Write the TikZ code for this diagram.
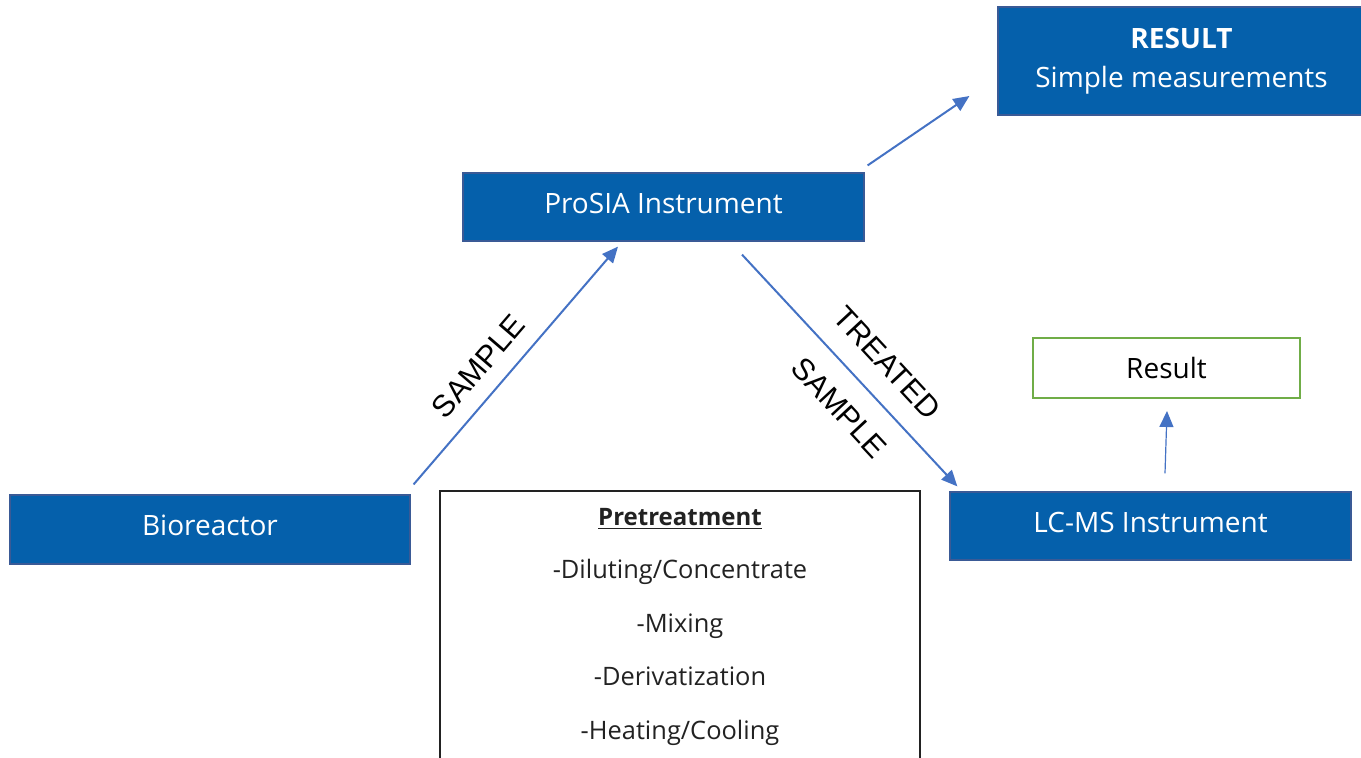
\documentclass[tikz,border=0pt]{standalone}
\usepackage{fontspec}
\setmainfont{Open Sans}
\newfontfamily\arialfont{Liberation Sans}
\usetikzlibrary{arrows.meta}

\definecolor{boxblue}{HTML}{0560AB}
\definecolor{boxedge}{HTML}{3A5A96}
\definecolor{arrowblue}{HTML}{4472C4}
\definecolor{resgreen}{HTML}{70AD47}
\definecolor{textdark}{HTML}{222222}

\newcommand{\liftlabel}[1]{\raisebox{2pt}[\height][\depth]{#1}}

\tikzset{
  bluebox/.style={draw=boxedge, line width=0.6pt, fill=boxblue, text=white, align=center, inner sep=0pt, font=\fontsize{14}{19.5}\selectfont},
  greenbox/.style={draw=resgreen, line width=1pt, fill=white, text=black, inner sep=0pt, font=\fontsize{14}{17}\selectfont},
  flow/.style={draw=arrowblue, line width=1pt, -{Triangle[length=8pt,width=7pt]}},
  lbl/.style={font=\arialfont\fontsize{15.3}{18}\selectfont, sloped, inner sep=0pt}
}

\begin{document}
\begin{tikzpicture}[x=0.5pt,y=-0.5pt]
\clip (0,0) rectangle (1361,757);

% Boxes
\node[bluebox, minimum width=183.5pt, minimum height=54pt] (resbig) at (1181.5,61) {\bfseries RESULT\\Simple measurements};
\node[bluebox, minimum width=200.5pt, minimum height=34pt] (prosia) at (663.5,207) {\liftlabel{ProSIA Instrument}};
\node[bluebox, minimum width=200pt, minimum height=34.5pt] (bio) at (210,529.5) {\liftlabel{Bioreactor}};
\node[bluebox, minimum width=200.5pt, minimum height=34pt] (lcms) at (1150.5,526) {\liftlabel{LC-MS Instrument}};
\node[greenbox, minimum width=133.5pt, minimum height=30pt] (result) at (1166.5,368) {Result};

% Pretreatment box
\node[draw=textdark, line width=0.8pt, fill=white, minimum width=240pt, minimum height=150pt, anchor=north, inner sep=0pt] (pretreat) at (680,490) {};
\node[anchor=north, inner sep=0pt, align=center, text=textdark, font=\fontsize{12.7}{26.7}\selectfont] (steps) at ([yshift=-9pt]pretreat.north) {{\fontsize{12}{26.7}\selectfont\textbf{\underline{Pretreatment}}}\\-Diluting/Concentrate\\-Mixing\\-Derivatization\\-Heating/Cooling};

% Arrows
\draw[flow] ([xshift=1.5pt,yshift=5pt]bio.north east) -- ([xshift=-22.75pt,yshift=-2.5pt]prosia.south)
  node[lbl, pos=0.42, above=8pt] (lblsample) {SAMPLE};
\draw[flow] ([xshift=39.25pt,yshift=-6.5pt]prosia.south) -- ([xshift=4pt,yshift=2.5pt]lcms.north west)
  node[lbl, pos=0.563, above=10.5pt] (lbltreated) {TREATED}
  node[lbl, pos=0.563, below=10.5pt] (lbltsample) {SAMPLE};
\draw[flow] ([xshift=1.5pt,yshift=3.5pt]prosia.north east) -- ([xshift=-14pt,yshift=-17.5pt]resbig.west);
\draw[flow, line width=0.6pt] ([xshift=7.25pt,yshift=9pt]lcms.north) -- ([xshift=0.25pt,yshift=-6pt]result.south);

\end{tikzpicture}
\end{document}
